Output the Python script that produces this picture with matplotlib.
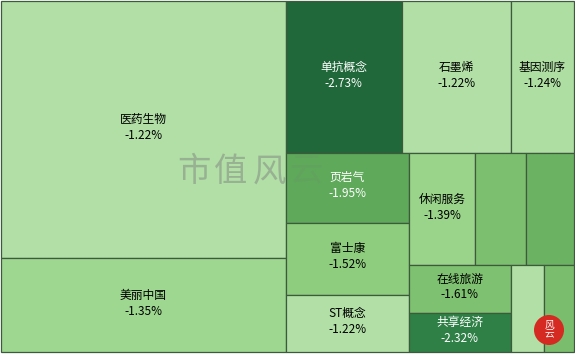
import numpy as np
import matplotlib
matplotlib.use("Agg")
import matplotlib.pyplot as plt
from matplotlib.colors import LinearSegmentedColormap
from matplotlib.patches import Rectangle, Circle

plt.rcParams['font.family'] = ['Noto Sans CJK SC', 'DejaVu Sans']

# cell data (size ~ market value, pct = daily change)
names = ["医药生物", "美丽中国", "单抗概念", "石墨烯", "基因测序",
         "页岩气", "富士康", "ST概念", "休闲服务", "", "",
         "在线旅游", "共享经济", "", ""]
sizes = [732, 267, 177, 166, 96,
         86, 89, 71, 74, 57, 54,
         48, 40, 29, 26]
pcts = [-1.22, -1.35, -2.73, -1.22, -1.24,
        -1.95, -1.52, -1.22, -1.39, -1.62, -1.80,
        -1.61, -2.32, -1.22, -1.65]
# how the cells are grouped into strips
strips = [[0, 1], [2, 3, 4], [5, 6, 7], [8, 9, 10], [11, 12], [13, 14]]

cmap = LinearSegmentedColormap.from_list("greens", [
    (0.00, "#b4e0a9"), (0.10, "#9dd68e"), (0.21, "#8dcc7c"),
    (0.26, "#7ec170"), (0.48, "#5ea95a"), (0.72, "#2f8046"),
    (1.00, "#1f6638")])
lo, hi = -1.2, -2.75


def layout(sizes, strips, x, y, w, h):
    scale = w * h / sum(sizes)
    rects = [None] * len(sizes)
    for grp in strips:
        area = sum(sizes[i] for i in grp) * scale
        if w >= h:
            sw = area / h
            yy = y
            for i in grp:
                hh = sizes[i] * scale / sw
                rects[i] = (x, yy, sw, hh)
                yy += hh
            x += sw
            w -= sw
        else:
            sh = area / w
            xx = x
            for i in grp:
                ww = sizes[i] * scale / sh
                rects[i] = (xx, y, ww, sh)
                xx += ww
            y += sh
            h -= sh
    return rects


fig = plt.figure(figsize=(5.75, 3.56), dpi=100)
ax = fig.add_axes([0, 0, 1, 1])
ax.set_xlim(0, 575)
ax.set_ylim(356, 0)
ax.axis('off')

rects = layout(sizes, strips, 1, 1, 573, 351)
for name, p, (rx, ry, rw, rh) in zip(names, pcts, rects):
    c = cmap((p - lo) / (hi - lo))
    ax.add_patch(Rectangle((rx, ry), rw, rh, facecolor=c, edgecolor="#3d5a3d",
                           linewidth=0.9, zorder=0))
    if name:
        tc = "white" if p < -1.9 else "black"
        cx, cy = rx + rw / 2, ry + rh / 2
        ax.text(cx, cy - 10, name, fontsize=8.5, color=tc, ha='center', va='center', zorder=3)
        ax.text(cx, cy + 6, f"{p:.2f}%", fontsize=8.5, color=tc, ha='center', va='center', zorder=3)

# watermark, spaced characters
for ch, wx, a in zip("市值风云", [194, 231, 269, 306], [0.45, 0.45, 0.45, 0.12]):
    ax.text(wx, 172, ch, fontsize=24, color="#7a7a7a", alpha=a,
            ha='center', va='center', zorder=2)

# red seal
ax.add_patch(Circle((549, 330), 15, facecolor="#d42a22", edgecolor="none", zorder=4))
ax.text(549, 330, "风\n云", fontsize=7, color="white", ha='center', va='center',
        linespacing=0.9, zorder=5)

fig.savefig("out.png", dpi=100)
